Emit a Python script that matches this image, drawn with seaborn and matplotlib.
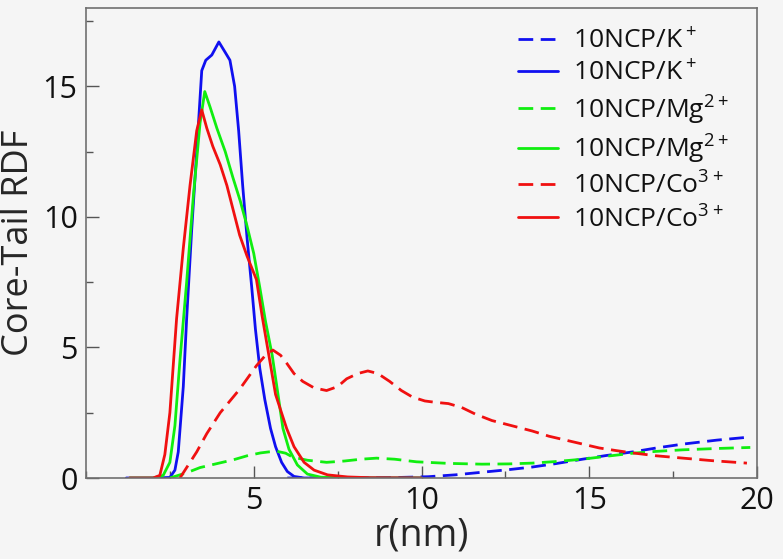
import matplotlib
matplotlib.use('Agg')
import matplotlib.pyplot as plt
from matplotlib.ticker import MultipleLocator
import seaborn as sns

# data
# solid lines
r_k_solid = [1.2, 2.0, 2.5, 2.65, 2.75, 2.9, 3.0, 3.15, 3.3, 3.45, 3.57, 3.75, 3.96,
             4.15, 4.29, 4.43, 4.55, 4.67, 4.8, 4.94, 5.05, 5.18, 5.33, 5.5, 5.65,
             5.83, 6.0, 6.2, 6.5, 8.0, 10.0]
g_k_solid = [0, 0, 0.02, 0.3, 1.0, 3.5, 6.1, 9.5, 12.5, 15.6, 16.0, 16.2, 16.7,
             16.3, 16.0, 15.0, 13.3, 11.2, 9.2, 7.3, 5.7, 4.2, 3.0, 1.9, 1.2,
             0.6, 0.25, 0.06, 0.0, 0, 0]
r_mg_solid = [1.3, 2.0, 2.3, 2.5, 2.65, 2.8, 3.0, 3.2, 3.4, 3.54, 3.7, 3.9, 4.15,
              4.38, 4.6, 4.79, 5.0, 5.18, 5.35, 5.55, 5.7, 5.87, 6.05, 6.3, 6.6,
              7.0, 8.0, 10.0]
g_mg_solid = [0, 0, 0.1, 0.6, 2.0, 4.5, 7.5, 10.8, 13.6, 14.8, 14.2, 13.4, 12.5,
              11.5, 10.6, 9.7, 8.6, 7.3, 6.0, 4.7, 3.4, 1.9, 1.1, 0.5, 0.15,
              0.03, 0, 0]
r_co_solid = [1.3, 2.0, 2.2, 2.35, 2.5, 2.7, 2.9, 3.1, 3.3, 3.45, 3.6, 3.78, 4.0,
              4.2, 4.4, 4.58, 4.8, 5.08, 5.25, 5.45, 5.65, 5.98, 6.2, 6.5, 6.8,
              7.2, 7.8, 8.5, 10.0]
g_co_solid = [0, 0, 0.1, 0.9, 2.5, 6.1, 8.8, 11.2, 13.3, 14.1, 13.4, 12.7, 12.0,
              11.2, 10.2, 9.3, 8.5, 7.6, 6.2, 4.7, 3.2, 1.9, 1.2, 0.6, 0.3,
              0.12, 0.04, 0.01, 0]
# dashed lines
r_k_dash = [6.0, 7.0, 8.0, 9.0, 10.2, 11.0, 11.8, 12.6, 13.3, 14.0, 14.8, 15.5,
            16.3, 17.0, 17.8, 18.8, 19.8]
g_k_dash = [0, 0, 0, 0.01, 0.05, 0.12, 0.22, 0.32, 0.42, 0.55, 0.72, 0.86,
            1.0, 1.15, 1.3, 1.45, 1.57]
r_mg_dash = [2.5, 3.0, 3.4, 3.9, 4.4, 4.8, 5.2, 5.45, 5.7, 5.95, 6.16, 6.6, 7.17,
             7.7, 8.2, 8.66, 9.2, 9.85, 10.8, 11.8, 12.6, 13.3, 14.0, 14.8, 15.5,
             16.3, 17.0, 17.8, 18.8, 19.8]
g_mg_dash = [0, 0.2, 0.4, 0.55, 0.7, 0.85, 0.96, 1.0, 1.02, 0.95, 0.8, 0.68, 0.6,
             0.65, 0.72, 0.76, 0.72, 0.62, 0.56, 0.53, 0.54, 0.57, 0.63, 0.72, 0.83,
             0.95, 1.02, 1.08, 1.13, 1.17]
r_co_dash = [2.8, 3.0, 3.3, 3.6, 4.0, 4.58, 5.08, 5.35, 5.57, 5.8, 5.98, 6.2, 6.46,
             6.8, 7.17, 7.5, 7.77, 8.1, 8.4, 8.7, 9.05, 9.4, 9.73, 10.1, 10.4, 10.8,
             11.2, 11.6, 12.1, 12.7, 13.3, 13.8, 14.3, 14.8, 15.3, 15.8, 16.3, 17.0,
             17.8, 18.7, 19.7]
g_co_dash = [0, 0.4, 1.0, 1.7, 2.5, 3.4, 4.3, 4.7, 4.9, 4.7, 4.4, 4.0, 3.7,
             3.45, 3.35, 3.5, 3.8, 4.0, 4.1, 4.0, 3.7, 3.35, 3.1, 2.95, 2.9, 2.85,
             2.7, 2.45, 2.2, 2.0, 1.8, 1.6, 1.45, 1.3, 1.15, 1.05, 0.96, 0.85,
             0.76, 0.66, 0.57]

BLUE = '#1010f0'
GREEN = '#10ee10'
RED = '#f01010'
BG = '#f5f5f5'

# legend order: dashed then solid for each ion
SERIES = [
    (r_k_dash, g_k_dash, BLUE, '--', '10NCP/K$^+$'),
    (r_k_solid, g_k_solid, BLUE, '-', '10NCP/K$^+$'),
    (r_mg_dash, g_mg_dash, GREEN, '--', '10NCP/Mg$^{2+}$'),
    (r_mg_solid, g_mg_solid, GREEN, '-', '10NCP/Mg$^{2+}$'),
    (r_co_dash, g_co_dash, RED, '--', '10NCP/Co$^{3+}$'),
    (r_co_solid, g_co_solid, RED, '-', '10NCP/Co$^{3+}$'),
]

sns.set_style('ticks')
plt.rcParams['font.family'] = ['Open Sans', 'DejaVu Sans']
plt.rcParams['mathtext.fontset'] = 'custom'
plt.rcParams['mathtext.rm'] = 'Open Sans'
plt.rcParams['text.color'] = '#111111'
plt.rcParams['xtick.color'] = '#111111'
plt.rcParams['ytick.color'] = '#111111'

fig = plt.figure(figsize=(7.83, 5.59), dpi=100, facecolor=BG)
ax = fig.add_axes([86 / 783, 1 - 478 / 559, (757 - 86) / 783, (478 - 8) / 559])
ax.set_facecolor(BG)

for r, g, col, ls, lab in SERIES:
    sns.lineplot(x=r, y=g, color=col, linewidth=2.0, label=lab,
                 ax=ax, sort=False, estimator=None)
    if ls == '--':
        ax.lines[-1].set_dashes((5.3, 2.7))

ax.set_xlim(0, 20)
ax.set_ylim(0, 18)
ax.xaxis.set_minor_locator(MultipleLocator(2.5))
ax.yaxis.set_major_locator(MultipleLocator(5))
ax.yaxis.set_minor_locator(MultipleLocator(2.5))
ax.set_xticks([5, 10, 15, 20])
ax.tick_params(which='major', direction='in', length=9, width=1,
               color='#555555', labelsize=22, pad=6)
ax.tick_params(which='minor', direction='in', length=5, width=1,
               color='#555555')
for sp in ax.spines.values():
    sp.set_color('#707070')
    sp.set_linewidth(1.2)

ax.set_xlabel('r(nm)', fontsize=27, labelpad=0)
ax.set_ylabel('Core-Tail RDF', fontsize=26, labelpad=4)

leg = ax.legend(loc='upper left', frameon=False, fontsize=19,
                handlelength=1.5, handletextpad=0.6, labelspacing=0.22,
                borderpad=0, borderaxespad=0,
                bbox_to_anchor=(518 / 783, 1 - 28 / 559),
                bbox_transform=fig.transFigure)

fig.savefig('out.png', dpi=100, facecolor=BG)
